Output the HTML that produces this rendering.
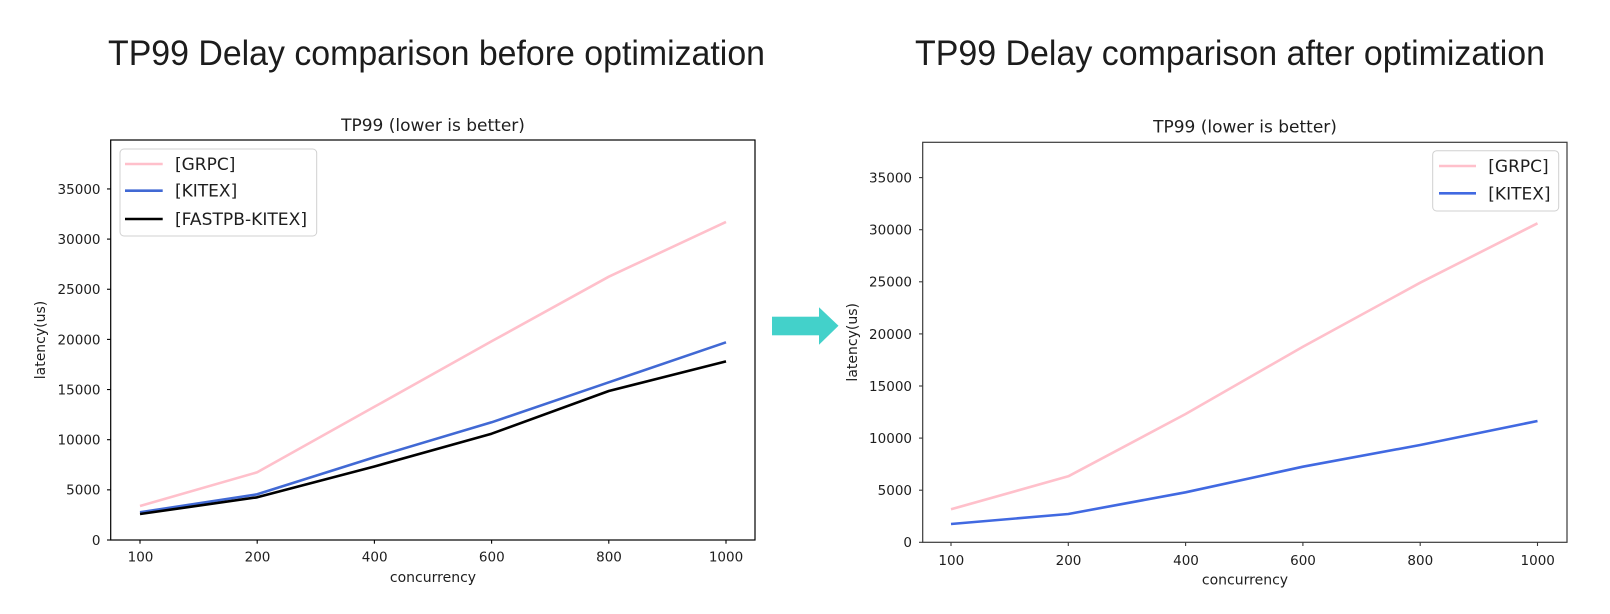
<!DOCTYPE html>
<html>
<head>
<meta charset="utf-8">
<style>
  html, body { margin: 0; padding: 0; background: #ffffff; }
  body { width: 1610px; height: 614px; overflow: hidden; }
  svg { display: block; }
  .mpl { font-family: "DejaVu Sans", "Liberation Sans", sans-serif; fill: #1e1e1e; }
  .big { font-family: "Liberation Sans", "Noto Sans CJK JP", sans-serif; fill: #1c1c1c; }
</style>
</head>
<body>
<svg width="1610" height="614" viewBox="0 0 1610 614" xmlns="http://www.w3.org/2000/svg">
  <rect x="0" y="0" width="1610" height="614" fill="#ffffff"/>

  <!-- Big titles -->
  <text class="big" x="108" y="65" font-size="35" textLength="657" lengthAdjust="spacingAndGlyphs">TP99 Delay comparison before optimization</text>
  <text class="big" x="915" y="65" font-size="35" textLength="630" lengthAdjust="spacingAndGlyphs">TP99 Delay comparison after optimization</text>

  <!-- Arrow -->
  <rect x="772" y="316.7" width="47.5" height="18.6" fill="#43D1CA"/>
  <polygon points="819,307.3 838.5,325.8 819,344.7" fill="#43D1CA"/>

  <!-- ================= LEFT CHART ================= -->
  <text class="mpl" x="433" y="131" font-size="17" text-anchor="middle">TP99 (lower is better)</text>

  <!-- series -->
  <polyline fill="none" stroke="#FFC0CB" stroke-width="2.6" stroke-linejoin="round"
    points="140,506 257.2,472.3 374.4,406.8 491.6,341.3 608.8,276.7 726,221.9"/>
  <polyline fill="none" stroke="#4169D4" stroke-width="2.6" stroke-linejoin="round"
    points="140,512.3 257.2,494.3 374.4,457.3 491.6,422.3 608.8,382.3 726,342.3"/>
  <polyline fill="none" stroke="#000000" stroke-width="2.6" stroke-linejoin="round"
    points="140,514 257.2,497.3 374.4,466.5 491.6,433.7 608.8,391 726,361.4"/>

  <!-- frame -->
  <rect x="110.7" y="140" width="644.3" height="400" fill="none" stroke="#000" stroke-width="1.2"/>

  <!-- y ticks -->
  <g stroke="#000" stroke-width="1.1">
    <line x1="107" y1="540" x2="110.7" y2="540"/>
    <line x1="107" y1="489.85" x2="110.7" y2="489.85"/>
    <line x1="107" y1="439.7" x2="110.7" y2="439.7"/>
    <line x1="107" y1="389.55" x2="110.7" y2="389.55"/>
    <line x1="107" y1="339.4" x2="110.7" y2="339.4"/>
    <line x1="107" y1="289.25" x2="110.7" y2="289.25"/>
    <line x1="107" y1="239.1" x2="110.7" y2="239.1"/>
    <line x1="107" y1="188.95" x2="110.7" y2="188.95"/>
  </g>
  <g class="mpl" font-size="13.5" text-anchor="end">
    <text x="100.5" y="544.9">0</text>
    <text x="100.5" y="494.7">5000</text>
    <text x="100.5" y="444.6">10000</text>
    <text x="100.5" y="394.4">15000</text>
    <text x="100.5" y="344.3">20000</text>
    <text x="100.5" y="294.1">25000</text>
    <text x="100.5" y="244">30000</text>
    <text x="100.5" y="193.8">35000</text>
  </g>

  <!-- x ticks -->
  <g stroke="#000" stroke-width="1.1">
    <line x1="140" y1="540" x2="140" y2="543.7"/>
    <line x1="257.2" y1="540" x2="257.2" y2="543.7"/>
    <line x1="374.4" y1="540" x2="374.4" y2="543.7"/>
    <line x1="491.6" y1="540" x2="491.6" y2="543.7"/>
    <line x1="608.8" y1="540" x2="608.8" y2="543.7"/>
    <line x1="726" y1="540" x2="726" y2="543.7"/>
  </g>
  <g class="mpl" font-size="13.5" text-anchor="middle">
    <text x="140.5" y="561.5">100</text>
    <text x="257.5" y="561.5">200</text>
    <text x="374.7" y="561.5">400</text>
    <text x="491.8" y="561.5">600</text>
    <text x="609" y="561.5">800</text>
    <text x="726" y="561.5">1000</text>
  </g>
  <text class="mpl" x="433" y="582" font-size="14" text-anchor="middle">concurrency</text>
  <text class="mpl" x="45" y="340" font-size="14" text-anchor="middle" transform="rotate(-90 45 340)">latency(us)</text>

  <!-- legend -->
  <rect x="120" y="149" width="196.7" height="87" rx="4" ry="4" fill="#ffffff" fill-opacity="0.85" stroke="#d0d0d0" stroke-width="1"/>
  <line x1="125" y1="164" x2="162.7" y2="164" stroke="#FFC0CB" stroke-width="2.6"/>
  <line x1="125" y1="190.7" x2="162.7" y2="190.7" stroke="#4169D4" stroke-width="2.6"/>
  <line x1="125" y1="219" x2="162.7" y2="219" stroke="#000" stroke-width="2.6"/>
  <g class="mpl" font-size="17">
    <text x="175" y="170">[GRPC]</text>
    <text x="175" y="196.7">[KITEX]</text>
    <text x="175" y="225" textLength="132" lengthAdjust="spacingAndGlyphs">[FASTPB-KITEX]</text>
  </g>

  <!-- ================= RIGHT CHART ================= -->
  <text class="mpl" x="1245" y="132.5" font-size="17" text-anchor="middle" fill="#262626">TP99 (lower is better)</text>

  <polyline fill="none" stroke="#FFC0CB" stroke-width="2.6" stroke-linejoin="round"
    points="951,509.3 1068.3,476.3 1185.6,414 1302.9,346.7 1420.2,282.7 1537.5,223.3"/>
  <polyline fill="none" stroke="#4169E1" stroke-width="2.6" stroke-linejoin="round"
    points="951,524 1068.3,514 1185.6,492.3 1302.9,466.7 1420.2,445 1537.5,421"/>

  <rect x="922.7" y="142.3" width="644.3" height="400" fill="none" stroke="#3a3a3a" stroke-width="1.2"/>

  <g stroke="#3a3a3a" stroke-width="1.1">
    <line x1="919" y1="542.3" x2="922.7" y2="542.3"/>
    <line x1="919" y1="490.2" x2="922.7" y2="490.2"/>
    <line x1="919" y1="438.1" x2="922.7" y2="438.1"/>
    <line x1="919" y1="386" x2="922.7" y2="386"/>
    <line x1="919" y1="333.9" x2="922.7" y2="333.9"/>
    <line x1="919" y1="281.8" x2="922.7" y2="281.8"/>
    <line x1="919" y1="229.7" x2="922.7" y2="229.7"/>
    <line x1="919" y1="177.6" x2="922.7" y2="177.6"/>
  </g>
  <g class="mpl" font-size="13.5" text-anchor="end" fill="#262626">
    <text x="912" y="547.2">0</text>
    <text x="912" y="495.1">5000</text>
    <text x="912" y="443">10000</text>
    <text x="912" y="390.9">15000</text>
    <text x="912" y="338.8">20000</text>
    <text x="912" y="286.7">25000</text>
    <text x="912" y="234.6">30000</text>
    <text x="912" y="182.5">35000</text>
  </g>

  <g stroke="#3a3a3a" stroke-width="1.1">
    <line x1="951" y1="542.3" x2="951" y2="546"/>
    <line x1="1068.3" y1="542.3" x2="1068.3" y2="546"/>
    <line x1="1185.6" y1="542.3" x2="1185.6" y2="546"/>
    <line x1="1302.9" y1="542.3" x2="1302.9" y2="546"/>
    <line x1="1420.2" y1="542.3" x2="1420.2" y2="546"/>
    <line x1="1537.5" y1="542.3" x2="1537.5" y2="546"/>
  </g>
  <g class="mpl" font-size="13.5" text-anchor="middle" fill="#262626">
    <text x="951.3" y="565">100</text>
    <text x="1068.5" y="565">200</text>
    <text x="1186" y="565">400</text>
    <text x="1303" y="565">600</text>
    <text x="1420.3" y="565">800</text>
    <text x="1537.7" y="565">1000</text>
  </g>
  <text class="mpl" x="1245" y="584.3" font-size="14" text-anchor="middle" fill="#262626">concurrency</text>
  <text class="mpl" x="857" y="342.3" font-size="14" text-anchor="middle" fill="#262626" transform="rotate(-90 857 342.3)">latency(us)</text>

  <rect x="1432.7" y="150.7" width="126" height="60.3" rx="4" ry="4" fill="#ffffff" fill-opacity="0.85" stroke="#d0d0d0" stroke-width="1"/>
  <line x1="1439" y1="166" x2="1476" y2="166" stroke="#FFC0CB" stroke-width="2.6"/>
  <line x1="1439" y1="193.3" x2="1476" y2="193.3" stroke="#4169E1" stroke-width="2.6"/>
  <g class="mpl" font-size="17" fill="#262626">
    <text x="1488.3" y="172">[GRPC]</text>
    <text x="1488.3" y="199.3">[KITEX]</text>
  </g>
</svg>
</body>
</html>
